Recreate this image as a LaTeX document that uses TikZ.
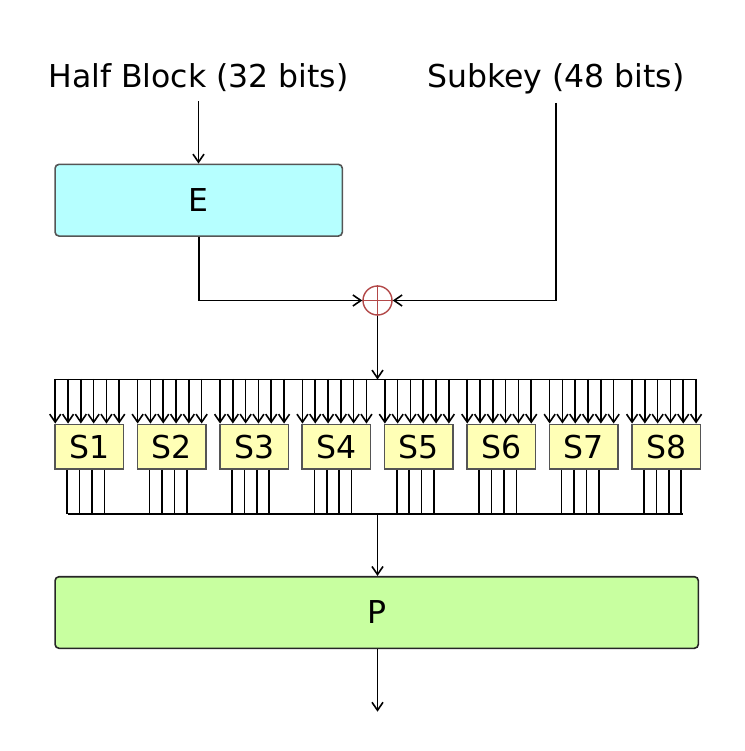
\documentclass[tikz,border=0pt]{standalone}
\usepackage{fontspec}
\setmainfont{DejaVu Sans}
\usetikzlibrary{arrows.meta,calc}
\definecolor{ecol}{RGB}{182,255,255}
\definecolor{pcol}{RGB}{200,255,160}
\definecolor{scol}{RGB}{255,255,182}
\definecolor{xcol}{RGB}{178,72,72}
\definecolor{bcol}{RGB}{85,85,85}
\begin{document}
\begin{tikzpicture}[x=1pt,y=-1pt, line width=1.6pt,
  arr/.style={-{Straight Barb[length=8pt,width=11pt]}},
  txt/.style={font=\fontsize{31.5}{36}\selectfont, inner sep=0pt},
  bigbox/.style={draw=bcol, line width=1.6pt, rounded corners=4pt, inner sep=0pt,
    font=\fontsize{31.5}{36}\selectfont},
  sbox/.style={draw=bcol, line width=1.5pt, fill=scol, minimum width=68.5pt,
    minimum height=44.7pt, inner sep=0pt, font=\fontsize{31.5}{36}\selectfont},
  xorc/.style={circle, draw=xcol, line width=1.4pt, minimum size=29pt, inner sep=0pt}]
\useasboundingbox (0,0) rectangle (744,751);
% labels
\node[txt, anchor=base] (hb) at (198.5,88) {Half Block (32 bits)};
\node[txt, anchor=base] (sk) at (555.8,87.5) {Subkey (48 bits)};
% E box
\node[bigbox, fill=ecol, minimum width=287.3pt, minimum height=71.7pt] (E) at (198.7,200.2) {E};
% XOR
\node[xorc] (xor) at (377.5,300.5) {};
\draw[xcol, line width=1.4pt] (xor.north) -- (xor.south) (xor.west) -- (xor.east);
% connectors to E and XOR
\coordinate (hbstart) at (198.5,101.5);
\coordinate (skstart) at (556,103);
\draw[arr] (hbstart) -- (hbstart |- E.north);
\draw[arr] (E.south) |- (xor.west);
\draw[arr] (skstart) |- (xor.east);
% top bus
\coordinate (tbL) at (56,379.5);
\coordinate (tbR) at (697,379.5);
\coordinate (tbM) at (377.5,379.5);
\draw (tbL) -- (tbR);
\draw[arr] (xor.south) -- (tbM);
% S boxes
\foreach \i in {1,...,8}{
  \node[sbox] (s\i) at ({55+82.4*(\i-1)+34.25},446.65) {S\i};
  \foreach \j in {0,...,5}{
    \draw[arr] ($(s\i.north west)+({1+12.8*\j},-44.8)$) -- ($(s\i.north west)+({1+12.8*\j},0)$);
  }
  \foreach \j in {0,...,3}{
    \draw ($(s\i.south west)+({13+12.4*\j},0)$) -- ++(0,44.3);
  }
}
% bottom bus
\coordinate (bbL) at (68,514);
\coordinate (bbR) at (682.5,514);
\coordinate (bbM) at (377.5,514);
\draw (bbL) -- (bbR);
% P box
\node[bigbox, draw=black!85, fill=pcol, minimum width=643.3pt, minimum height=71.6pt] (P) at (376.7,612.5) {P};
\draw[arr] (bbM) -- (bbM |- P.north);
\coordinate (out) at (377.5,711.7);
\draw[arr] (out |- P.south) -- (out);
\end{tikzpicture}
\end{document}
